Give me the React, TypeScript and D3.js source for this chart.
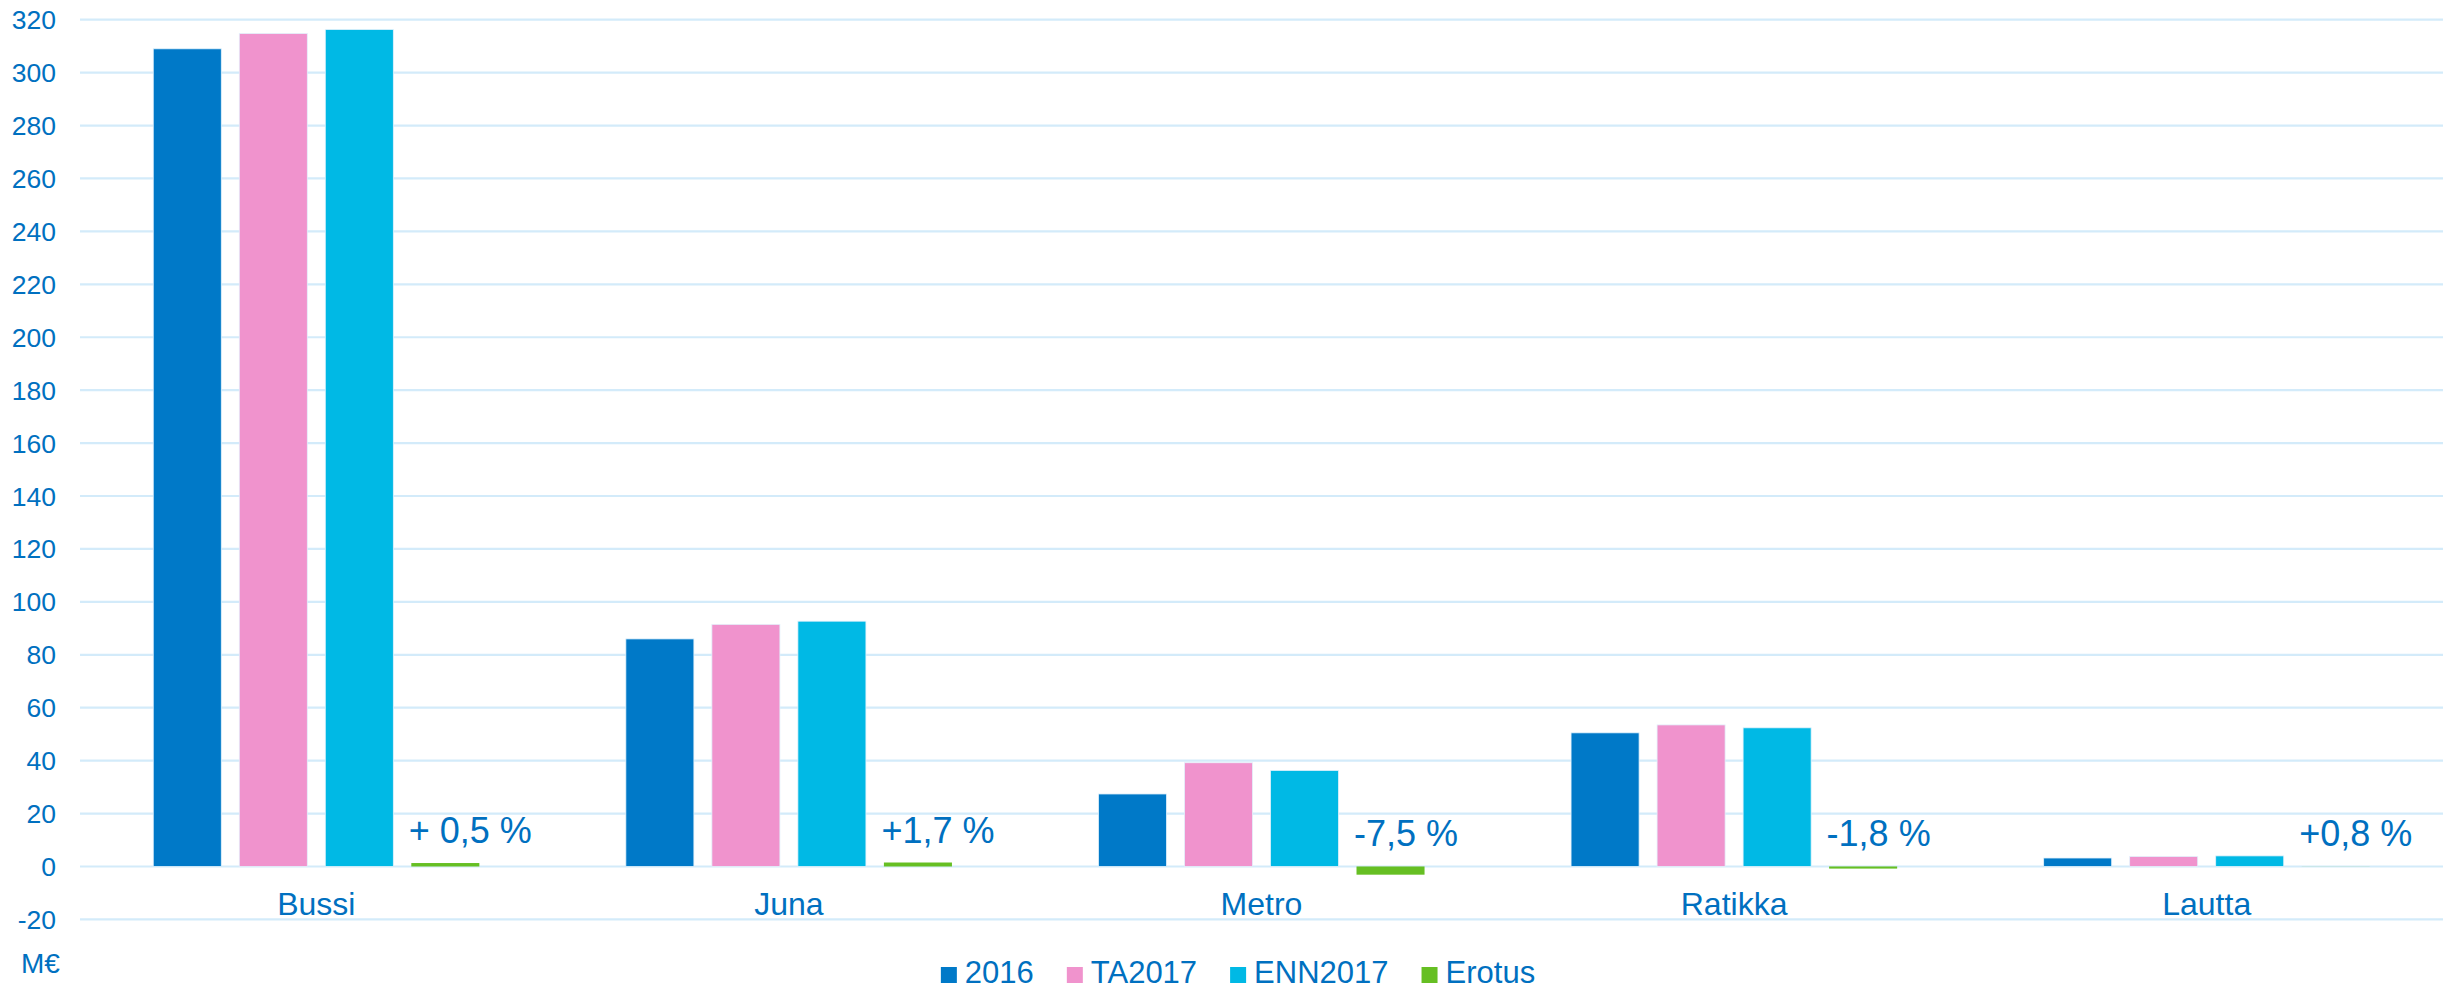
import React, { useEffect, useRef } from 'react';
import * as d3 from 'd3';

const categories = ['Bussi', 'Juna', 'Metro', 'Ratikka', 'Lautta'];
const seriesNames = ['2016', 'TA2017', 'ENN2017', 'Erotus'];
const values2016 = [309, 86, 27.4, 50.5, 3.2];
const valuesTA2017 = [314.8, 91.5, 39.2, 53.5, 3.8];
const valuesENN2017 = [316.3, 92.7, 36.3, 52.4, 4.0];
const valuesErotus = [1.3, 1.5, -3.1, -0.8, 0.03];
const erotusLabels = ['+ 0,5 %', '+1,7 %', '-7,5 %', '-1,8 %', '+0,8 %'];
const yTicks = [-20, 0, 20, 40, 60, 80, 100, 120, 140, 160, 180, 200, 220, 240, 260, 280, 300, 320];

const colors = ['#0079C8', '#F093CD', '#00B9E5', '#66BF23'];
const textColor = '#0070C0';
const font = "'Liberation Sans', Arial, sans-serif";

const width = 2461;
const height = 989;

export default function App() {
    const ref = useRef<SVGSVGElement | null>(null);

    useEffect(() => {
        const svg = d3.select(ref.current);
        svg.selectAll('*').remove();

        const margin = { left: 80, right: 18, top: 19.7, bottom: 69.6 };

        const yScale = d3.scaleLinear()
            .domain([-20, 320])
            .range([height - margin.bottom, margin.top]);

        const x0 = d3.scaleBand()
            .domain(categories)
            .range([margin.left, width - margin.right])
            .paddingInner(0.31)
            .paddingOuter(0.155);

        const x1 = d3.scaleBand()
            .domain(seriesNames)
            .range([0, x0.bandwidth()])
            .paddingInner(0.209)
            .paddingOuter(0);

        // gridlines
        svg.append('g')
            .selectAll('line')
            .data(yTicks)
            .enter()
            .append('line')
            .attr('x1', margin.left)
            .attr('x2', width - margin.right)
            .attr('y1', d => yScale(d))
            .attr('y2', d => yScale(d))
            .attr('stroke', '#D3EBFA')
            .attr('stroke-width', 2.2);

        // y tick labels
        svg.append('g')
            .selectAll('text')
            .data(yTicks)
            .enter()
            .append('text')
            .attr('x', 56)
            .attr('y', d => yScale(d))
            .attr('dy', '0.36em')
            .attr('text-anchor', 'end')
            .attr('font-family', font)
            .attr('font-size', 26.5)
            .attr('fill', textColor)
            .text(d => d);

        svg.append('text')
            .attr('x', 21)
            .attr('y', 973)
            .attr('font-family', font)
            .attr('font-size', 28)
            .attr('fill', textColor)
            .text('M€');

        const table = [values2016, valuesTA2017, valuesENN2017, valuesErotus];

        seriesNames.forEach((name, s) => {
            svg.append('g')
                .selectAll('rect')
                .data(table[s])
                .enter()
                .append('rect')
                .attr('x', (d, i) => (x0(categories[i]) as number) + (x1(name) as number))
                .attr('y', d => yScale(Math.max(0, d)))
                .attr('width', x1.bandwidth())
                .attr('height', d => Math.abs(yScale(d) - yScale(0)))
                .attr('fill', colors[s])
                .attr('stroke', s === 3 ? 'none' : '#E3F2FC')
                .attr('stroke-width', 0.8);
        });

        // erotus labels
        svg.append('g')
            .selectAll('text')
            .data(valuesErotus)
            .enter()
            .append('text')
            .attr('x', (d, i) => (x0(categories[i]) as number) + (x1('Erotus') as number) - 2.5)
            .attr('y', d => yScale(Math.max(0, d)) - 20)
            .attr('font-family', font)
            .attr('font-size', 36)
            .attr('fill', textColor)
            .text((d, i) => erotusLabels[i]);

        // category labels
        svg.append('g')
            .selectAll('text')
            .data(categories)
            .enter()
            .append('text')
            .attr('x', d => (x0(d) as number) + x0.bandwidth() / 2)
            .attr('y', 915)
            .attr('text-anchor', 'middle')
            .attr('font-family', font)
            .attr('font-size', 32)
            .attr('fill', textColor)
            .text(d => d);

        // legend
        const legend = svg.append('g');
        const items = legend.selectAll('g')
            .data(seriesNames)
            .enter()
            .append('g');

        items.append('rect')
            .attr('x', 0)
            .attr('y', 967)
            .attr('width', 16)
            .attr('height', 16)
            .attr('fill', (d, i) => colors[i]);

        items.append('text')
            .attr('x', 24)
            .attr('y', 983)
            .attr('font-family', font)
            .attr('font-size', 31)
            .attr('fill', textColor)
            .text(d => d);

        let offset = 0;
        const offsets: number[] = [];
        items.each(function () {
            const t = d3.select(this).select('text').node() as SVGTextElement;
            offsets.push(offset);
            offset += 24 + t.getComputedTextLength() + 33;
        });
        const total = offset - 33;
        const start = 1238 - total / 2;
        items.attr('transform', (d, i) => `translate(${start + offsets[i]},0)`);
    }, []);

    return (
        <svg
            ref={ref}
            width={width}
            height={height}
            style={{ position: 'absolute', left: 0, top: 0, display: 'block', background: '#fff' }}
        />
    );
}
